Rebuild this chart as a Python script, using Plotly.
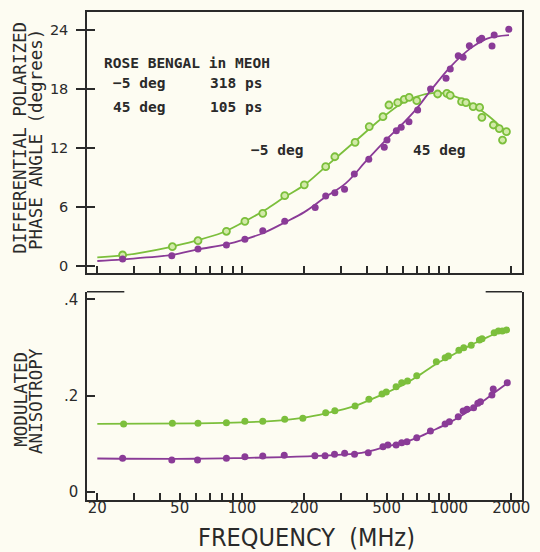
import plotly.graph_objects as go

# ---------------- data ----------------
# x-axis ticks (MHz)
tick_vals = [20, 30, 40, 50, 60, 70, 80, 90, 100, 200, 300, 400, 500, 600, 700, 800, 900, 1000, 2000]
tick_text = ["20", "", "", "50", "", "", "", "", "100", "200", "", "", "500", "", "", "", "", "1000", "2000"]

# Top panel: differential polarized phase angle (degrees)
top_g_freq = [26.5, 46.1, 61.3, 84.1, 103.3, 126, 160.9, 200, 253.8, 281, 352, 412, 480, 513, 565.6,
              608, 642.5, 699, 882, 977, 1014, 1151, 1208, 1309, 1407, 1443, 1640, 1751, 1815, 1896]
top_g_val = [1.09, 1.93, 2.54, 3.5, 4.51, 5.33, 7.12, 8.22, 10.07, 11.08, 12.55, 14.14, 15.15, 16.34, 16.58,
             16.92, 17.12, 16.78, 17.46, 17.53, 17.33, 16.68, 16.58, 16.17, 16.10, 15.09, 14.31, 13.94, 12.78, 13.63]

top_p_freq = [26.5, 45.8, 61.3, 84.1, 103.3, 126, 160.9, 225.8, 253.8, 281, 313, 349, 410, 487, 502, 557,
              588, 641, 706, 815, 968, 1015, 1109, 1171, 1255, 1404, 1440, 1615, 1654, 1946]
top_p_val = [0.68, 1.02, 1.70, 2.1, 2.68, 3.56, 4.51, 5.93, 7.09, 7.43, 7.77, 9.33, 10.82, 12.04, 12.78, 13.73,
             14.07, 14.64, 15.83, 17.97, 19.05, 20.0, 21.36, 21.19, 22.37, 22.95, 23.12, 22.34, 23.46, 24.04]

# fitted curves (top)
fit_g_freq = [20, 26.5, 45, 60, 80, 100, 130, 160, 200, 250, 350, 480, 600, 700, 830, 980, 1270, 1570, 1950]
fit_g_val = [0.85, 1.05, 1.9, 2.55, 3.35, 4.35, 5.7, 6.95, 8.2, 9.95, 12.6, 15.1, 16.6, 17.2, 17.55, 17.45, 16.5, 15.15, 13.3]
fit_p_freq = [20, 26.5, 46, 61, 84, 103, 126, 161, 200, 250, 318, 400, 486, 608, 700, 815, 1014, 1270, 1530, 1950]
fit_p_val = [0.48, 0.65, 1.09, 1.65, 2.17, 2.68, 3.3, 4.4, 5.45, 6.9, 8.4, 10.7, 12.6, 14.6, 16.0, 17.8, 20.2, 22.1, 23.1, 23.45]

# Bottom panel: modulated anisotropy
bot_g_freq = [26.8, 46.1, 61.3, 84.1, 103.3, 126, 160.9, 196.8, 253.8, 281, 352, 410.5, 475, 498, 555.6, 591,
              631, 699, 869, 958.5, 994, 1117, 1179, 1281, 1404, 1445, 1654, 1734, 1811, 1899]
bot_g_val = [0.1407, 0.1421, 0.1421, 0.1435, 0.1463, 0.1463, 0.1505, 0.1526, 0.1643, 0.1684, 0.1782, 0.192,
             0.2031, 0.2073, 0.2183, 0.2266, 0.2301, 0.2412, 0.2703, 0.2786, 0.2821, 0.294, 0.2994, 0.3044,
             0.3154, 0.3181, 0.3306, 0.3341, 0.3341, 0.3362]

bot_p_freq = [26.5, 45.8, 61, 84.1, 103.3, 126, 160, 225, 252, 280, 313.4, 349.8, 407.5, 480, 507, 555.6, 591,
              627, 699, 814, 958.5, 1005, 1109, 1171, 1223, 1316, 1379, 1420, 1613, 1637, 1913]
bot_p_val = [0.0694, 0.0659, 0.0659, 0.0694, 0.0728, 0.0742, 0.0756, 0.0749, 0.0749, 0.0777, 0.0798, 0.0777,
             0.0811, 0.0936, 0.0971, 0.0971, 0.1019, 0.104, 0.1123, 0.1262, 0.1407, 0.1455, 0.1559, 0.1677,
             0.1712, 0.1747, 0.1837, 0.1871, 0.201, 0.2135, 0.2266]

fitb_g_freq = [20, 60, 100, 160, 200, 254, 350, 410, 500, 600, 700, 870, 1000, 1200, 1450, 1700, 1950]
fitb_g_val = [0.141, 0.142, 0.144, 0.149, 0.154, 0.163, 0.178, 0.19, 0.206, 0.222, 0.239, 0.266, 0.28, 0.299, 0.316, 0.33, 0.338]
fitb_p_freq = [20, 60, 100, 160, 250, 350, 410, 500, 600, 700, 815, 1000, 1200, 1400, 1650, 1950]
fitb_p_val = [0.069, 0.0685, 0.07, 0.072, 0.075, 0.079, 0.084, 0.094, 0.102, 0.112, 0.125, 0.143, 0.163, 0.182, 0.205, 0.228]

top_ticks = [0, 6, 12, 18, 24]
bot_ticks = [0, 0.2, 0.4]
bot_ticktext = ["0", ".2", ".4"]

# ---------------- style ----------------
W, H = 540, 552
L, R, T, B = 87, 10, 12, 52
BG = "#fdfcf2"
INK = "#2a2a2a"
GREEN = "#7cbf3c"
GREEN_FILL = "#d2eaa8"
PURPLE = "#8a3b97"
MONO = "DejaVu Sans Mono"
SANS = "DejaVu Sans"


def px(xp):
    return (xp - L) / (W - L - R)


def py(yp):
    return (H - B - yp) / (H - T - B)


fig = go.Figure()

# top panel
fig.add_trace(go.Scatter(x=fit_g_freq, y=fit_g_val, mode="lines", line=dict(color=GREEN, width=1.8, shape="spline"),
                         xaxis="x", yaxis="y", showlegend=False, hoverinfo="skip"))
fig.add_trace(go.Scatter(x=fit_p_freq, y=fit_p_val, mode="lines", line=dict(color=PURPLE, width=1.8, shape="spline"),
                         xaxis="x", yaxis="y", showlegend=False, hoverinfo="skip"))
fig.add_trace(go.Scatter(x=top_g_freq, y=top_g_val, mode="markers",
                         marker=dict(symbol="circle", size=7, color=GREEN_FILL, line=dict(color=GREEN, width=1.8)),
                         xaxis="x", yaxis="y", showlegend=False))
fig.add_trace(go.Scatter(x=top_p_freq, y=top_p_val, mode="markers",
                         marker=dict(symbol="circle", size=7, color=PURPLE, line=dict(width=0)),
                         xaxis="x", yaxis="y", showlegend=False))
# overlay axis for inside ticks (crossing ticks)
fig.add_trace(go.Scatter(x=[None], y=[None], xaxis="x", yaxis="y3", showlegend=False, hoverinfo="skip"))

# bottom panel
fig.add_trace(go.Scatter(x=fitb_g_freq, y=fitb_g_val, mode="lines", line=dict(color=GREEN, width=1.8, shape="spline"),
                         xaxis="x2", yaxis="y2", showlegend=False, hoverinfo="skip"))
fig.add_trace(go.Scatter(x=fitb_p_freq, y=fitb_p_val, mode="lines", line=dict(color=PURPLE, width=1.8, shape="spline"),
                         xaxis="x2", yaxis="y2", showlegend=False, hoverinfo="skip"))
fig.add_trace(go.Scatter(x=bot_g_freq, y=bot_g_val, mode="markers",
                         marker=dict(symbol="circle", size=7, color=GREEN, line=dict(width=0)),
                         xaxis="x2", yaxis="y2", showlegend=False))
fig.add_trace(go.Scatter(x=bot_p_freq, y=bot_p_val, mode="markers",
                         marker=dict(symbol="circle", size=7, color=PURPLE, line=dict(width=0)),
                         xaxis="x2", yaxis="y2", showlegend=False))

xrange_log = [1.2512, 3.353]
axis_common = dict(showgrid=False, zeroline=False, linecolor=INK, linewidth=1.5, tickcolor=INK, tickwidth=1.5)

fig.update_layout(
    width=W, height=H,
    margin=dict(l=L, r=R, t=T, b=B),
    paper_bgcolor=BG, plot_bgcolor=BG,
    showlegend=False,
    xaxis=dict(type="log", range=xrange_log, domain=[0, 1], anchor="y", showline=True, mirror=True,
               ticks="inside", ticklen=7, tickmode="array", tickvals=tick_vals, showticklabels=False, **axis_common),
    yaxis=dict(domain=[py(272.7), 1], range=[-0.712, 25.8], anchor="x", showline=True, mirror=True,
               ticks="outside", ticklen=9, tickmode="array", tickvals=top_ticks,
               tickfont=dict(family=SANS, size=14.5, color=INK), ticklabelstandoff=5, **axis_common),
    yaxis3=dict(overlaying="y", range=[-0.712, 25.8], anchor="x", side="left", showline=False,
                ticks="inside", ticklen=8, tickmode="array", tickvals=top_ticks, showticklabels=False,
                showgrid=False, zeroline=False, tickcolor=INK, tickwidth=1.5),
    xaxis2=dict(type="log", range=xrange_log, domain=[0, 1], anchor="y2", showline=True, mirror=False,
                ticks="inside", ticklen=7, tickmode="array", tickvals=tick_vals, ticktext=tick_text,
                tickfont=dict(family=SANS, size=15, color=INK), ticklabelstandoff=-7, **axis_common),
    yaxis2=dict(domain=[0, py(291.7)], range=[-0.01726, 0.4158], anchor="x2", showline=True, mirror=True,
                ticks="inside", ticklen=8, tickmode="array", tickvals=bot_ticks, ticktext=bot_ticktext,
                tickfont=dict(family=SANS, size=15, color=INK), ticklabelstandoff=4, **axis_common),
)

# partial top border of the lower panel
for x0, x1 in [(0, px(125)), (px(493), 1)]:
    fig.add_shape(type="line", xref="x2 domain", yref="y2 domain", x0=x0, x1=x1, y0=1, y1=1,
                  line=dict(color=INK, width=1.5))

txt = dict(family=MONO, size=14.5, color=INK)
ann = [
    dict(text="<b>ROSE BENGAL in MEOH</b>", x=px(102.7), y=py(62.5), xanchor="left"),
    dict(text="<b>−5 deg</b>", x=px(111.7), y=py(83.3), xanchor="left"),
    dict(text="<b>318 ps</b>", x=px(210), y=py(83.3), xanchor="left"),
    dict(text="<b>45 deg</b>", x=px(111.7), y=py(106.7), xanchor="left"),
    dict(text="<b>105 ps</b>", x=px(210), y=py(106.7), xanchor="left"),
    dict(text="<b>−5 deg</b>", x=px(280), y=py(150), xanchor="center"),
    dict(text="<b>45 deg</b>", x=px(445.3), y=py(150), xanchor="center"),
]
for a in ann:
    fig.add_annotation(xref="paper", yref="paper", yanchor="middle", showarrow=False, font=txt, **a)

ytitle_font = dict(family=MONO, size=17.5, color=INK)
for text, xp, yp in [("DIFFERENTIAL POLARIZED", 18.5, 138), ("PHASE ANGLE (degrees)", 35, 139),
                     ("MODULATED", 19.5, 399), ("ANISOTROPY", 35, 401)]:
    fig.add_annotation(text=text, xref="paper", yref="paper", x=px(xp), y=py(yp), xanchor="center",
                       yanchor="middle", textangle=-90, showarrow=False, font=ytitle_font)

fig.add_annotation(text="FREQUENCY  (MHz)", xref="paper", yref="paper", x=px(311), y=py(537),
                   xanchor="center", yanchor="middle", showarrow=False,
                   font=dict(family="Liberation Sans Narrow, DejaVu Sans Condensed, Arial Narrow, sans-serif",
                             size=25, color=INK))

fig.write_html("out.html", config={"displayModeBar": False},
               post_script="document.body.style.margin='0';document.body.style.padding='0';")
